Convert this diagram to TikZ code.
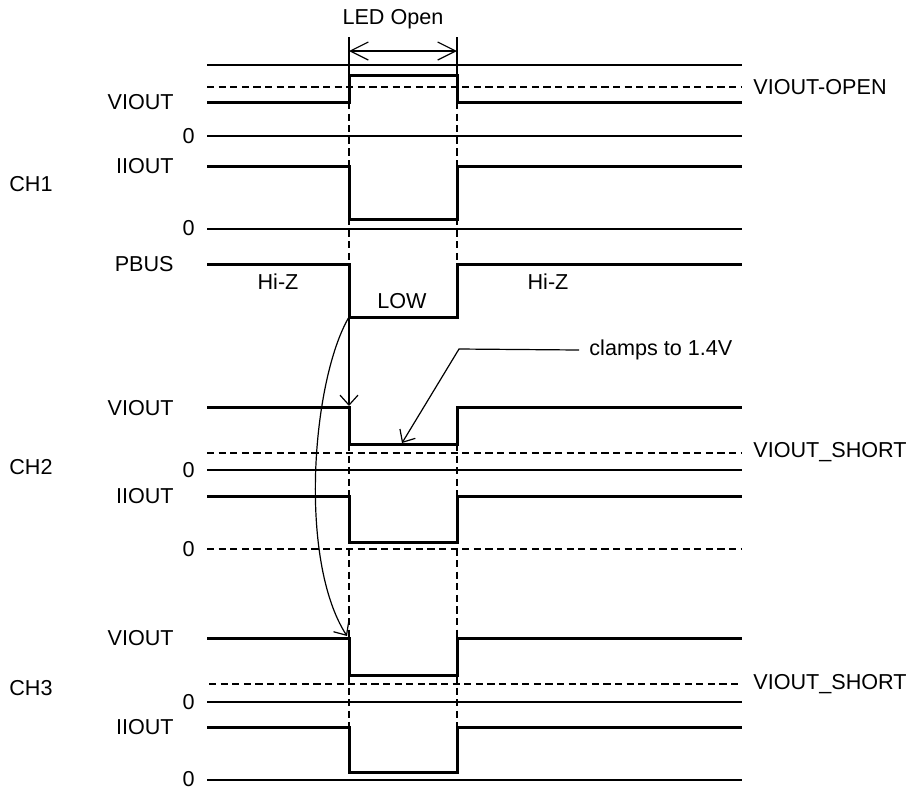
\documentclass[tikz,border=0pt]{standalone}
\usepackage{fontspec}
\setmainfont{Liberation Sans}
\usetikzlibrary{arrows.meta}
\tikzset{
  signal/.style={line width=1.5pt},
  zero_line/.style={line width=0.7pt},
  level_line/.style={line width=1.1pt, dash pattern=on 3.6pt off 2.2pt},
  marker_line/.style={line width=1.1pt, dash pattern=on 3.6pt off 2.2pt},
  edge/.style={line width=0.6pt},
  barb_edge/.style={line width=0.6pt, -{Straight Barb[length=5pt, width=9pt]}},
  span_edge/.style={line width=0.6pt, {Straight Barb[length=9pt, width=9pt]}-{Straight Barb[length=9pt, width=9pt]}},
  txt/.style={font=\fontsize{10.8pt}{13pt}\selectfont, inner sep=0pt},
  left_label/.style={txt, anchor=east},
  right_label/.style={txt, anchor=west}
}

\begin{document}
\begin{tikzpicture}[x=0.5pt, y=-0.5pt]
        \useasboundingbox (0,0) rectangle (914,788);
        \coordinate (1) at (349, 37);
        \coordinate (2) at (457, 37);
        \coordinate (3) at (349, 75);
        \coordinate (4) at (457, 75);
        \coordinate (5) at (349, 51);
        \coordinate (6) at (457, 51);
        \coordinate (7) at (349, 317);
        \coordinate (8) at (349, 406);
        \coordinate (9) at (347, 636);
        \coordinate (10) at (459, 349);
        \coordinate (11) at (402, 443);
        \draw[marker_line] (349, 102) -- (349, 317);
        \draw[marker_line] (457, 102) -- (457, 317);
        \draw[marker_line] (349, 444) -- (349, 772);
        \draw[marker_line] (457, 444) -- (457, 772);
        \draw[zero_line] (207, 65) -- (742, 65);
        \draw[level_line] (207, 87) -- (742, 87);
        \draw[signal] (207, 102) -- (349, 102) -- (349, 75) -- (457, 75) -- (457, 102) -- (742, 102);
        \draw[zero_line] (207, 136) -- (742, 136);
        \draw[signal] (207, 166) -- (349, 166) -- (349, 219) -- (457, 219) -- (457, 166) -- (742, 166);
        \draw[zero_line] (207, 229) -- (742, 229);
        \draw[signal] (207, 264) -- (349, 264) -- (349, 317) -- (457, 317) -- (457, 264) -- (742, 264);
        \draw[signal] (207, 407) -- (349, 407) -- (349, 444) -- (457, 444) -- (457, 407) -- (742, 407);
        \draw[level_line] (207, 453) -- (742, 453);
        \draw[zero_line] (207, 470) -- (742, 470);
        \draw[signal] (207, 496) -- (349, 496) -- (349, 542) -- (457, 542) -- (457, 496) -- (742, 496);
        \draw[level_line] (207, 549) -- (742, 549);
        \draw[signal] (207, 638) -- (349, 638) -- (349, 675) -- (457, 675) -- (457, 638) -- (742, 638);
        \draw[level_line] (209, 684) -- (742, 684);
        \draw[zero_line] (207, 702) -- (742, 702);
        \draw[signal] (207, 727) -- (349, 727) -- (349, 772) -- (457, 772) -- (457, 727) -- (742, 727);
        \draw[zero_line] (207, 780) -- (742, 780);
        \draw[edge] (1) -- (3);
        \draw[edge] (2) -- (4);
        \draw[span_edge] (5) -- (6);
        \draw[barb_edge] (7) -- (8);
        \draw[barb_edge] (7) .. controls (312, 380) and (298, 560) .. (9);
        \node[txt] (20) at (393, 19) {LED Open};
        \node[right_label] (21) at (753, 87) {VIOUT-OPEN};
        \node[left_label] (22) at (174, 102) {VIOUT};
        \node[left_label] (23) at (195, 136) {0};
        \node[left_label] (24) at (174, 166) {IIOUT};
        \node[left_label] (25) at (195, 228) {0};
        \node[left_label] (26) at (174, 264) {PBUS};
        \node[txt, anchor=west] (27) at (9, 184) {CH1};
        \node[txt] (28) at (278, 282) {Hi-Z};
        \node[txt] (29) at (548, 282) {Hi-Z};
        \node[txt] (30) at (402, 301) {LOW};
        \node[txt, anchor=west, inner sep=5pt] (31) at (579, 350) {clamps to 1.4V};
        \draw[barb_edge] (31.west) -- (10) -- (11);
        \node[left_label] (32) at (174, 408) {VIOUT};
        \node[right_label] (33) at (753, 452) {VIOUT\_SHORT};
        \node[txt, anchor=west] (34) at (9, 467) {CH2};
        \node[left_label] (35) at (195, 470) {0};
        \node[left_label] (36) at (174, 496) {IIOUT};
        \node[left_label] (37) at (195, 549) {0};
        \node[left_label] (38) at (174, 638) {VIOUT};
        \node[right_label] (39) at (753, 684) {VIOUT\_SHORT};
        \node[txt, anchor=west] (40) at (9, 688) {CH3};
        \node[left_label] (41) at (195, 702) {0};
        \node[left_label] (42) at (174, 727) {IIOUT};
        \node[left_label] (43) at (195, 779) {0};
    \end{tikzpicture}
\end{document}
